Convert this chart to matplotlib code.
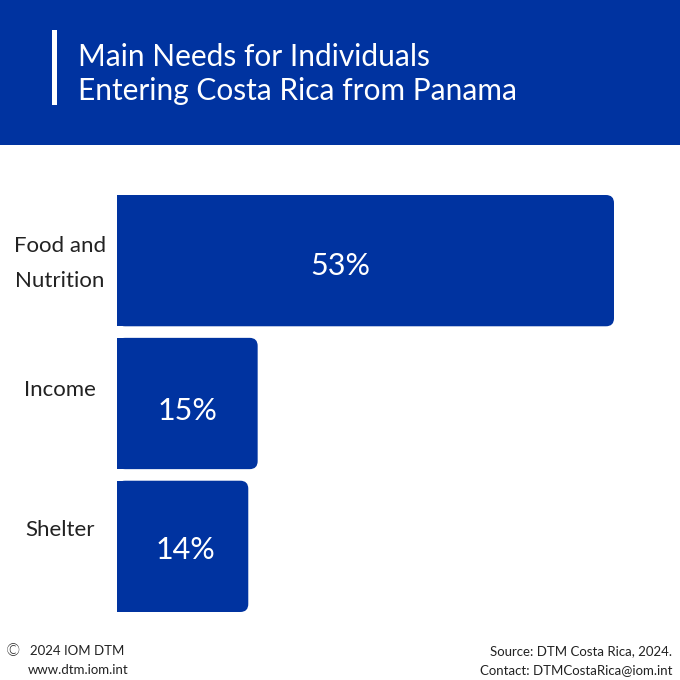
import matplotlib.pyplot as plt
from matplotlib.patches import Rectangle, FancyBboxPatch
from matplotlib import transforms

# data
categories = ["Food and\nNutrition", "Income", "Shelter"]
values = [53, 15, 14]
value_labels = ["53%", "15%", "14%"]

title_lines = ["Main Needs for Individuals", "Entering Costa Rica from Panama"]

BLUE = "#0033A0"
FONT = "Lato"
TXT = "#222222"

W = H = 680
fig = plt.figure(figsize=(6.8, 6.8), dpi=100)
fig.patch.set_facecolor("white")

def fx(px):
    return px / W

def fy(py):
    return 1 - py / H

# header band
fig.patches.append(Rectangle((0, fy(145)), 1, 145 / H, transform=fig.transFigure,
                             facecolor=BLUE, edgecolor="none", zorder=0))
fig.patches.append(Rectangle((fx(52), fy(105)), 5 / W, 75 / H, transform=fig.transFigure,
                             facecolor="white", edgecolor="none", zorder=1))
fig.text(fx(78), fy(66), title_lines[0], color="white", fontsize=21.5,
         family=FONT, va="baseline", ha="left")
fig.text(fx(78), fy(100), title_lines[1], color="white", fontsize=21.5,
         family=FONT, va="baseline", ha="left")

#%% bars
bar_h = 0.919
ax = fig.add_axes([fx(117), fy(612), (614 - 117) / W, (612 - 195) / H])
ypos = list(range(len(values)))
bars = ax.barh(ypos, values, height=bar_h, color=BLUE, edgecolor="none")
ax.set_xlim(0, 53)
ax.set_ylim(len(values) - 1 + bar_h / 2, -bar_h / 2)
ax.axis("off")

# rounded right corners (radius ~8 px)
rx = 8 * 53 / 497
ry = 8 * bar_h / 131
for b in bars:
    x0, y0, w, h = b.get_x(), b.get_y(), b.get_width(), b.get_height()
    b.set_width(w - rx)
    ax.add_patch(FancyBboxPatch((x0, y0), w, h,
                                boxstyle="round,pad=0,rounding_size=%f" % rx,
                                mutation_aspect=ry / rx,
                                facecolor=BLUE, edgecolor="none", zorder=b.get_zorder()))

# value labels (small pixel nudges)
value_dx = [-25, 0, 3]
value_dy = [-5, -8, -4]
for v, b, lab, dx, dy in zip(values, bars, value_labels, value_dx, value_dy):
    off = transforms.offset_copy(ax.transData, fig=fig, x=dx * 0.72, y=dy * 0.72, units="points")
    ax.text(v / 2, b.get_y() + b.get_height() / 2, lab, transform=off,
            ha="center", va="center", color="white", fontsize=22, family=FONT)

# category labels
label_dy = [-3, 14, 16]
for y, cat, dy in zip(ypos, categories, label_dy):
    tr = transforms.blended_transform_factory(fig.transFigure, ax.transData)
    off = transforms.offset_copy(tr, fig=fig, x=0, y=dy * 0.72, units="points")
    fig.text(fx(60), y, cat, transform=off, ha="center", va="center",
             color=TXT, fontsize=16, family=FONT, linespacing=1.95)

#%% footer
fig.text(fx(5), fy(651), "\u00a9", fontsize=12, family="DejaVu Sans", va="center",
         ha="left", color=TXT, fontweight="light")
fig.text(fx(30), fy(651), "2024 IOM DTM", fontsize=9.5, family=FONT, va="center",
         ha="left", color=TXT)
fig.text(fx(28), fy(670), "www.dtm.iom.int", fontsize=9.5, family=FONT, va="center",
         ha="left", color=TXT)
fig.text(fx(672), fy(651), "Source: DTM Costa Rica, 2024.", fontsize=9.5, family=FONT,
         va="center", ha="right", color=TXT)
fig.text(fx(672), fy(670), "Contact: DTMCostaRica@iom.int", fontsize=9.5, family=FONT,
         va="center", ha="right", color=TXT)

fig.savefig("out.png", dpi=100)
